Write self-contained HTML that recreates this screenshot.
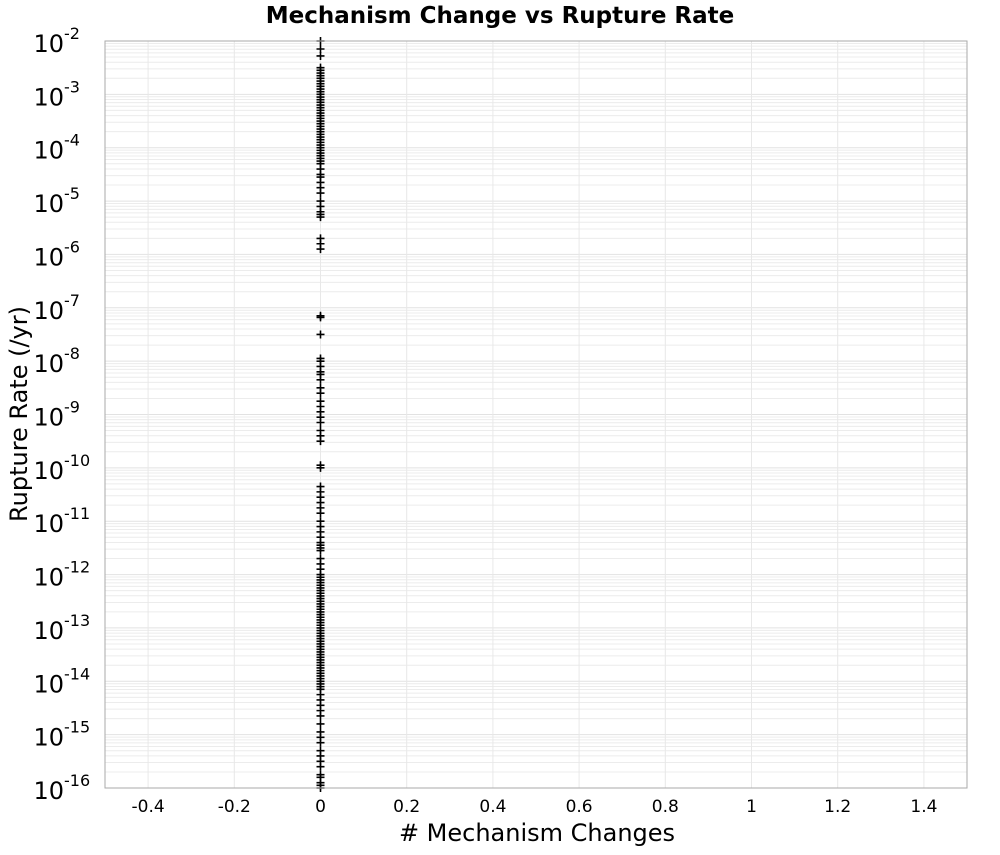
<!DOCTYPE html>
<html><head><meta charset="utf-8"><style>
body{margin:0;background:#fff;font-family:"Liberation Sans","DejaVu Sans",sans-serif}
</style></head><body>
<svg id="chart" width="1000" height="850" xmlns="http://www.w3.org/2000/svg">
<text x="500" y="23" text-anchor="middle" font-size="23" font-weight="bold" font-family="DejaVu Sans, sans-serif">Mechanism Change vs Rupture Rate</text>
<g id="grid"></g>
<g id="points"></g>
<rect x="105" y="41" width="862" height="747" fill="none" stroke="#aaa" stroke-width="1"/>
<g id="xticks"></g>
<g id="yticks"></g>
<text x="537" y="841" text-anchor="middle" font-size="24" font-family="DejaVu Sans, sans-serif"># Mechanism Changes</text>
<text transform="translate(27,414) rotate(-90)" text-anchor="middle" font-size="24" font-family="DejaVu Sans, sans-serif">Rupture Rate (/yr)</text>
</svg>
<script>
const xTicks=[-0.4,-0.2,0,0.2,0.4,0.6,0.8,1,1.2,1.4];
const yExps=[-2,-3,-4,-5,-6,-7,-8,-9,-10,-11,-12,-13,-14,-15,-16];
const mechChanges=0;
const logRates=[-2.0,-2.15,-2.28,-2.5,-2.55,-2.6,-2.65,-2.7,-2.75,-2.8,-2.85,-2.9,-2.95,-3.0,-3.05,-3.1,-3.15,-3.2,-3.25,-3.3,-3.35,-3.4,-3.45,-3.5,-3.55,-3.6,-3.65,-3.7,-3.75,-3.8,-3.85,-3.9,-3.95,-4.0,-4.05,-4.1,-4.15,-4.2,-4.25,-4.3,-4.4,-4.5,-4.55,-4.65,-4.75,-4.85,-5.0,-5.1,-5.2,-5.25,-5.3,-5.7,-5.8,-5.9,-7.15,-7.18,-7.5,-7.95,-8.0,-8.1,-8.2,-8.25,-8.35,-8.5,-8.6,-8.75,-8.85,-8.95,-9.05,-9.15,-9.3,-9.4,-9.5,-9.95,-10.0,-10.35,-10.45,-10.55,-10.65,-10.75,-10.85,-11.0,-11.1,-11.2,-11.3,-11.4,-11.45,-11.5,-11.55,-11.7,-11.8,-11.9,-12.0,-12.05,-12.1,-12.15,-12.2,-12.25,-12.3,-12.35,-12.4,-12.45,-12.5,-12.55,-12.6,-12.65,-12.7,-12.75,-12.8,-12.85,-12.9,-12.95,-13.0,-13.05,-13.1,-13.15,-13.2,-13.25,-13.3,-13.35,-13.4,-13.45,-13.5,-13.55,-13.6,-13.65,-13.7,-13.75,-13.8,-13.85,-13.9,-13.95,-14.0,-14.05,-14.1,-14.15,-14.25,-14.35,-14.45,-14.55,-14.65,-14.8,-14.95,-15.05,-15.15,-15.3,-15.4,-15.5,-15.6,-15.75,-15.8,-15.9,-15.95,-16.0];
const NS="http://www.w3.org/2000/svg";
const X0=105,X1=967,Y0=41,Y1=788;
const xs=v=>X0+(v+0.5)/2*(X1-X0);
const ys=e=>Y0+(-2-e)/14*(Y1-Y0);
function mk(t,a,p){const e=document.createElementNS(NS,t);for(const k in a)e.setAttribute(k,a[k]);p.appendChild(e);return e;}
const grid=document.getElementById('grid');
for(let d=-16;d<-2;d++){for(let m=1;m<10;m++){const y=ys(d+Math.log10(m));
const l=mk('line',{x1:X0,x2:X1,y1:y,y2:y,stroke:m==1?'#e2e2e2':'#ececec','stroke-width':1},grid);

}}
const xt=document.getElementById('xticks');
xTicks.forEach(v=>{const x=xs(v);
const l=mk('line',{x1:x,x2:x,y1:Y0,y2:Y1,stroke:'#e8e8e8','stroke-width':1},grid);


const t=mk('text',{x:x,y:812,'text-anchor':'middle','font-size':17,'font-family':'DejaVu Sans, sans-serif'},xt);
t.textContent=String(v);

});
const yt=document.getElementById('yticks');
yExps.forEach(e=>{const y=ys(e);
const t=mk('text',{x:64,y:y+11,'text-anchor':'end','font-size':24,'font-family':'DejaVu Sans, sans-serif'},yt);
t.textContent='10';


const s=mk('text',{x:64,y:y-2,'font-size':16,'font-family':'DejaVu Sans, sans-serif'},yt);
s.textContent=String(e);

});
const pts=document.getElementById('points');
logRates.forEach(e=>{const x=xs(mechChanges),y=ys(e);
const p=mk('path',{d:`M${x-4},${y}H${x+4}M${x},${y-4}V${y+4}`,stroke:'#000','stroke-width':1.6},pts);

});
</script>
</body></html>
